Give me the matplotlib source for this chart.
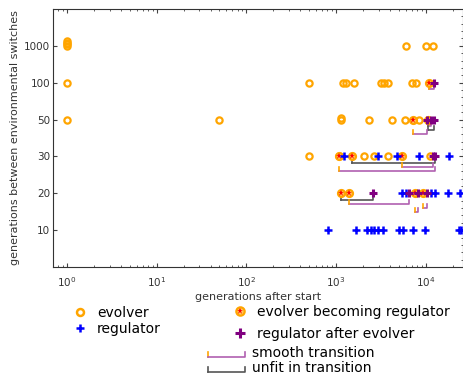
import matplotlib
matplotlib.use('Agg')
import matplotlib.pyplot as plt
from matplotlib.lines import Line2D
from matplotlib.legend_handler import HandlerBase

# -------------------------------
# Data
# -------------------------------

# generations between environmental switches (categorical y axis)
intervals = [10, 20, 30, 50, 100, 1000]

# generations after start, per interval
evolver = {
    1000: [1, 1, 1, 1, 5960, 9950, 11900],
    100: [1, 495, 1184, 1279, 1570, 3140, 3390, 3755, 6950, 7700],
    50: [1, 50, 1125, 1125, 2305, 4155, 5800, 8320],
    30: [495, 1069, 2030, 2623, 3755, 11020],
}
regulator = {
    10: [806, 1653, 2193, 2428, 2623, 2904, 3303, 4980, 5520, 7130, 9700, 23200, 25000],
    20: [5380, 5960, 11300, 12540, 17500, 24000],
    30: [1216, 2904, 4732, 8320, 17950],
}
evolver_to_regulator = {
    100: [10740],
    50: [7130, 10470],
    30: [1069, 1492, 5380],
    20: [1125, 1381, 7500, 9210],
}
regulator_after_evolver = {
    100: [12210],
    50: [10200, 11300, 12210],
    30: [11900, 12540],
    20: [2556, 6430, 8110, 10200],
}

# transitions: interval, start (evolver becoming regulator), end (regulator), kind
trans_interval = [100, 50, 50, 50, 30, 30, 30, 20, 20, 20, 20]
trans_start = [10740, 10470, 10470, 7130, 1492, 5380, 1069, 1125, 1381, 9210, 7500]
trans_end = [12210, 11300, 12210, 10200, 12540, 11900, 12540, 2556, 6430, 10200, 8110]
trans_kind = ['smooth', 'smooth', 'unfit', 'smooth', 'unfit', 'smooth', 'smooth',
              'unfit', 'smooth', 'smooth', 'smooth']

ORANGE = '#FFA500'
PURPLE = '#800080'
BR_PURPLE = '#B060B0'
BR_GREY = '#555555'
TXT = '#333333'


def row_points(series):
    # repeated values in one row are stacked slightly upwards
    xs, ys = [], []
    for i, iv in enumerate(intervals):
        seen = {}
        for x in series.get(iv, []):
            k = seen.get(x, 0)
            seen[x] = k + 1
            xs.append(x)
            ys.append(i + 1 + 0.045 * k)
    return xs, ys


fig = plt.figure(figsize=(4.64, 3.81), dpi=100)
ax = fig.add_axes([53 / 464, 1 - 267 / 381, 410 / 464, 258 / 381])

# brackets for transitions
levels = {}
for iv, x0, x1, kind in zip(trans_interval, trans_start, trans_end, trans_kind):
    k = levels.get(iv, 0)
    levels[iv] = k + 1
    y = intervals.index(iv) + 1
    yb = y - (0.17 + 0.11 * k)
    yt = yb + 0.11
    line_col = BR_PURPLE if kind == 'smooth' else BR_GREY
    left_col = ORANGE if kind == 'smooth' else BR_GREY
    ax.plot([x0, x1, x1], [yb, yb, yt], color=line_col, lw=1.2, zorder=1)
    ax.plot([x0, x0], [yb, yt], color=left_col, lw=1.2, zorder=1)

x, y = row_points(evolver)
ax.plot(x, y, 'o', ms=4.5, mfc='none', mec=ORANGE, mew=1.6, zorder=2)

x, y = row_points(evolver_to_regulator)
ax.plot(x, y, 'o', ms=5, mfc='#FFC860', mec=ORANGE, mew=1.6, zorder=3)
ax.plot(x, y, '*', ms=4.5, color='red', mew=0, zorder=4)

x, y = row_points(regulator)
ax.plot(x, y, '+', ms=5.5, color='blue', mew=1.8, zorder=5)

x, y = row_points(regulator_after_evolver)
ax.plot(x, y, '+', ms=6, color=PURPLE, mew=2.2, zorder=6)

ax.set_xscale('log')
ax.set_xlim(0.7, 26000)
ax.set_ylim(0, 7)
ax.set_yticks(range(1, len(intervals) + 1))
ax.set_yticklabels([str(v) for v in intervals])
ax.minorticks_on()
ax.yaxis.set_tick_params(which='minor', left=False, right=False)
ax.tick_params(which='both', direction='in', top=True, right=True,
               labelsize=7.5, labelcolor=TXT, color='#444444')
ax.tick_params(axis='x', pad=6)
ax.tick_params(axis='y', pad=2)
ax.tick_params(which='major', length=3)
ax.tick_params(which='minor', length=1.5)
for s in ax.spines.values():
    s.set_color('#333333')
ax.set_xlabel('generations after start', fontsize=8, labelpad=2, color=TXT)
ax.set_ylabel('generations between environmental switches', fontsize=8, labelpad=3, color=TXT)


# legend handle drawing a bracket
class BracketHandler(HandlerBase):
    def __init__(self, left_col, line_col):
        super().__init__()
        self.left_col = left_col
        self.line_col = line_col

    def create_artists(self, legend, orig_handle, xdescent, ydescent,
                       width, height, fontsize, trans):
        x0, x1 = -xdescent, -xdescent + width
        yb = -ydescent + 0.05 * height
        yt = -ydescent + 0.55 * height
        arts = [Line2D([x0, x0], [yb, yt], color=self.left_col, lw=1.2),
                Line2D([x0, x1, x1], [yb, yb, yt], color=self.line_col, lw=1.2)]
        for a in arts:
            a.set_transform(trans)
        return arts


h_evo = Line2D([], [], ls='none', marker='o', ms=5, mfc='none', mec=ORANGE, mew=1.8)
h_reg = Line2D([], [], ls='none', marker='+', ms=6, color='blue', mew=1.8)
h_star = (Line2D([], [], ls='none', marker='o', ms=6, mfc='#FFC860', mec=ORANGE, mew=1.6),
          Line2D([], [], ls='none', marker='*', ms=5, color='red', mew=0))
h_rae = Line2D([], [], ls='none', marker='+', ms=6.5, color=PURPLE, mew=2.2)
h_smooth = Line2D([], [])
h_unfit = Line2D([], [])

common = dict(loc='upper left', frameon=False, fontsize=10, borderpad=0, borderaxespad=0)
fig.legend([h_evo, h_reg], ['evolver', 'regulator'],
           bbox_to_anchor=(73 / 464, 1 - 306 / 381),
           handlelength=1.0, handletextpad=0.72, labelspacing=0.15, **common)
fig.legend([h_star, h_rae], ['evolver becoming regulator', 'regulator after evolver'],
           bbox_to_anchor=(233 / 464, 1 - 305 / 381),
           handlelength=1.0, handletextpad=0.72, labelspacing=0.55, **common)
fig.legend([h_smooth, h_unfit], ['smooth transition', 'unfit in transition'],
           bbox_to_anchor=(208 / 464, 1 - 346 / 381),
           handlelength=2.66, handletextpad=0.5, labelspacing=0.1,
           handler_map={h_smooth: BracketHandler(ORANGE, BR_PURPLE),
                        h_unfit: BracketHandler(BR_GREY, BR_GREY)},
           **common)

fig.savefig('out.png', dpi=100)
